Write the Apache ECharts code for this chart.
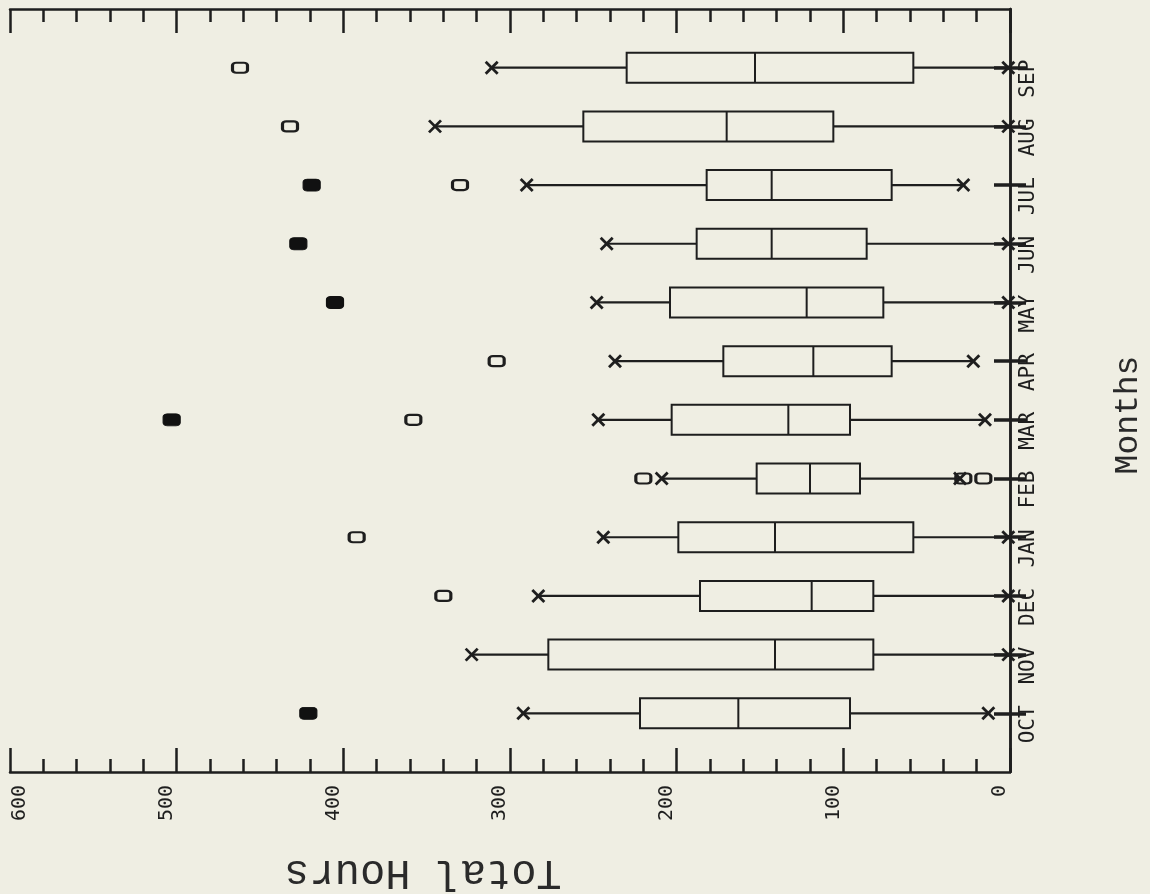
<!DOCTYPE html>
<html>
<head>
<meta charset="utf-8">
<script src="https://cdn.jsdelivr.net/npm/echarts@6/dist/echarts.min.js"></script>
<style>
html,body{margin:0;padding:0;background:#efeee3;}
#chart{width:1150px;height:894px;}
</style>
</head>
<body>
<div id="chart"></div>
<script>
// ---- data ----
const months = ['OCT','NOV','DEC','JAN','FEB','MAR','APR','MAY','JUN','JUL','AUG','SEP'];
const whiskerLow  = [13, 1, 1, 1, 30, 15, 22, 1, 1, 28, 1, 1];
const quartile1   = [96, 82, 82, 58, 90, 96, 71, 76, 86, 71, 106, 58];
const medians     = [163, 141, 119, 141, 120, 133, 118, 122, 143, 143, 170, 153];
const quartile3   = [222, 277, 186, 199, 152, 203, 172, 204, 188, 182, 256, 230];
const whiskerHigh = [292, 323, 283, 244, 209, 247, 237, 248, 242, 290, 345, 311];

// open outliers ("o")
const openOutlierMonth = ['DEC','JAN','FEB','FEB','FEB','MAR','APR','JUL','AUG','SEP'];
const openOutlierValue = [340, 392, 220, 28, 16, 358, 308, 330, 432, 462];
// overlapping (filled) outliers
const filledOutlierMonth = ['OCT','MAR','MAY','JUN','JUL'];
const filledOutlierValue = [421, 503, 405, 427, 419];

const valueTicks = [0, 100, 200, 300, 400, 500, 600];

// ---- build ----
const cats = [''].concat(months, ['']);
const boxData = months.map((m, i) => [i + 1, whiskerLow[i], quartile1[i], medians[i], quartile3[i], whiskerHigh[i]]);
const openData = openOutlierMonth.map((m, i) => [openOutlierValue[i], months.indexOf(m) + 1]);
const filledData = filledOutlierMonth.map((m, i) => [filledOutlierValue[i], months.indexOf(m) + 1]);

const ink = '#1e1e1e';
const tickFilter = (idx) => idx > 0 && idx < cats.length - 1;

function valueAxis(pos, showLabel) {
  return {
    type: 'value', position: pos, inverse: true,
    min: valueTicks[0], max: valueTicks[valueTicks.length - 1], interval: 100,
    splitLine: { show: false },
    axisLine: { show: true, lineStyle: { color: ink, width: 2.5 } },
    axisTick: { show: true, inside: true, length: 24, lineStyle: { color: ink, width: 2.5 } },
    minorTick: { show: true, splitNumber: 5, length: 13, lineStyle: { color: ink, width: 2.5 } },
    axisLabel: {
      show: showLabel, rotate: 90, margin: 13, color: ink,
      fontFamily: 'DejaVu Sans Mono', fontSize: 20,
      verticalAlign: 'bottom', verticalAlignMaxLabel: 'top'
    }
  };
}
function catAxis(pos, showLabel) {
  return {
    type: 'category', position: pos, data: cats, boundaryGap: false,
    axisLine: { show: true, lineStyle: { color: ink, width: 2.5 } },
    axisTick: { show: true, inside: true, length: 16, interval: tickFilter, lineStyle: { color: ink, width: 3.5 } },
    axisLabel: {
      show: showLabel, rotate: 90, margin: 8, color: ink, interval: 0,
      fontFamily: 'DejaVu Sans Mono', fontSize: 21, padding: [0, 22, 0, 0]
    },
    splitLine: { show: false }
  };
}

const chart = echarts.init(document.getElementById('chart'), null, { renderer: 'canvas' });
chart.setOption({
  backgroundColor: '#efeee3',
  animation: false,
  grid: { left: 10, right: 140, top: 9, bottom: 122 },
  xAxis: [valueAxis('bottom', true), valueAxis('top', false)],
  yAxis: [catAxis('right', true), catAxis('left', false)],
  series: [
    {
      type: 'custom', xAxisIndex: 0, yAxisIndex: 0,
      encode: { x: [1, 2, 3, 4, 5], y: 0 },
      data: boxData,
      renderItem: function (params, api) {
        const c = api.value(0);
        const pLo = api.coord([api.value(1), c]);
        const pQ1 = api.coord([api.value(2), c]);
        const pMd = api.coord([api.value(3), c]);
        const pQ3 = api.coord([api.value(4), c]);
        const pHi = api.coord([api.value(5), c]);
        const cy = pMd[1];
        const h = 30, xs = 6;
        const st = { stroke: ink, lineWidth: 2, fill: null };
        const line = (x1, y1, x2, y2, w) => ({ type: 'line', shape: { x1, y1, x2, y2 }, style: { stroke: ink, lineWidth: w || 2 } });
        const left = Math.min(pQ1[0], pQ3[0]);
        return {
          type: 'group',
          children: [
            { type: 'rect', shape: { x: left, y: cy - h / 2, width: Math.abs(pQ3[0] - pQ1[0]), height: h }, style: st },
            line(pMd[0], cy - h / 2, pMd[0], cy + h / 2),
            line(pQ1[0], cy, pLo[0], cy, 2.2),
            line(pQ3[0], cy, pHi[0], cy, 2.2),
            line(pLo[0] - xs, cy - xs, pLo[0] + xs, cy + xs, 2.8),
            line(pLo[0] - xs, cy + xs, pLo[0] + xs, cy - xs, 2.8),
            line(pHi[0] - xs, cy - xs, pHi[0] + xs, cy + xs, 2.8),
            line(pHi[0] - xs, cy + xs, pHi[0] + xs, cy - xs, 2.8)
          ]
        };
      }
    },
    {
      type: 'scatter', xAxisIndex: 0, yAxisIndex: 0,
      data: openData, symbol: 'roundRect', symbolSize: [15, 10],
      itemStyle: { color: 'rgba(0,0,0,0)', borderColor: ink, borderWidth: 2.6, opacity: 1 }
    },
    {
      type: 'scatter', xAxisIndex: 0, yAxisIndex: 0,
      data: filledData, symbol: 'roundRect', symbolSize: [17, 12],
      itemStyle: { color: '#111', borderColor: '#111', borderWidth: 1, opacity: 1 }
    }
  ],
  graphic: [
    { type: 'text', x: 1128, y: 415, rotation: Math.PI / 2,
      style: { text: 'Months', fill: '#2a2a2a', font: '33px "Liberation Mono"', align: 'center', verticalAlign: 'middle' } },
    { type: 'text', x: 423, y: 872, rotation: Math.PI,
      style: { text: 'Total Hours', fill: '#2a2a2a', font: '42px "Liberation Mono"', align: 'center', verticalAlign: 'middle' } }
  ]
});
</script>
</body>
</html>
